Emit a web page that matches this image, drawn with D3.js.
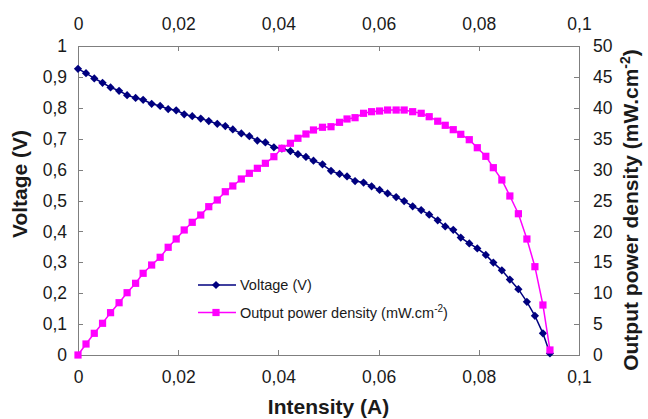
<!DOCTYPE html>
<html>
<head>
<meta charset="utf-8">
<script src="https://cdn.jsdelivr.net/npm/d3@7"></script>
<style>
  html, body { margin: 0; padding: 0; background: #fff; }
  svg { display: block; font-family: "Liberation Sans", Arial, sans-serif; }
  .axis path, .axis line { stroke: #7f7f7f; stroke-width: 1; shape-rendering: crispEdges; }
  .axis text { fill: #1a1a1a; font-size: 17.5px; }
</style>
</head>
<body>
<svg id="chart" width="648" height="419"></svg>
<script>
// Fuel cell polarisation data: current (A), cell voltage (V), output power density (mW/cm2)
const current = [0, 0.0016, 0.00325, 0.0049, 0.0065, 0.0082, 0.0098, 0.0115, 0.0130, 0.0147,
  0.0164, 0.0180, 0.0196, 0.0212, 0.0228, 0.0245, 0.0261, 0.0278, 0.0294, 0.0309,
  0.0326, 0.0342, 0.0358, 0.0374, 0.0391, 0.0407, 0.0424, 0.0439, 0.0455, 0.0470,
  0.0488, 0.0505, 0.0522, 0.0537, 0.0553, 0.0570, 0.0586, 0.0602, 0.0618, 0.0635,
  0.0651, 0.0668, 0.0685, 0.0701, 0.0718, 0.0733, 0.0749, 0.0764, 0.0781, 0.0797,
  0.0814, 0.0829, 0.0846, 0.0862, 0.0879, 0.0896, 0.0912, 0.0928, 0.0942];

const voltage = [0.926, 0.912, 0.895, 0.881, 0.866, 0.855, 0.841, 0.832, 0.826, 0.813,
  0.806, 0.796, 0.792, 0.779, 0.773, 0.765, 0.757, 0.748, 0.741, 0.730,
  0.717, 0.708, 0.694, 0.688, 0.672, 0.668, 0.660, 0.650, 0.641, 0.629,
  0.617, 0.596, 0.586, 0.578, 0.563, 0.558, 0.546, 0.534, 0.523, 0.511,
  0.498, 0.481, 0.469, 0.454, 0.436, 0.416, 0.405, 0.380, 0.361, 0.345,
  0.324, 0.299, 0.274, 0.244, 0.213, 0.172, 0.127, 0.070, 0.005];

const power = [0, 1.78, 3.51, 5.13, 6.85, 8.46, 10.08, 11.60, 13.22, 14.56,
  15.81, 17.43, 18.77, 20.23, 21.47, 22.65, 24.00, 25.08, 26.42, 27.35,
  28.48, 29.40, 30.21, 31.02, 32.09, 33.45, 34.26, 35.07, 35.76, 36.41,
  36.85, 36.94, 37.65, 38.19, 38.40, 39.11, 39.37, 39.48, 39.64, 39.64,
  39.64, 39.37, 39.11, 38.56, 37.83, 37.17, 36.46, 35.71, 34.84, 33.54,
  32.15, 30.31, 28.32, 25.73, 22.86, 18.77, 14.29, 8.09, 0.81];

const xTicks = [0, 0.02, 0.04, 0.06, 0.08, 0.1];
const voltTicks = [0, 0.1, 0.2, 0.3, 0.4, 0.5, 0.6, 0.7, 0.8, 0.9, 1];
const powerTicks = [0, 5, 10, 15, 20, 25, 30, 35, 40, 45, 50];

const seriesNames = ["Voltage (V)", "Output power density (mW.cm", "-2", ")"];

const svg = d3.select("#chart");
const plot = { left: 78, right: 579, top: 46, bottom: 355 };

const x = d3.scaleLinear().domain([0, 0.1]).range([plot.left, plot.right]);
const yV = d3.scaleLinear().domain([0, 1]).range([plot.bottom, plot.top]);
const yP = d3.scaleLinear().domain([0, 50]).range([plot.bottom, plot.top]);

// Decimal comma labels
const fmt = v => String(+v.toFixed(3)).replace(".", ",");

svg.append("g").attr("class", "axis")
  .attr("transform", `translate(0,${plot.bottom})`)
  .call(d3.axisBottom(x).tickValues(xTicks).tickFormat(fmt).tickSizeInner(-5).tickSizeOuter(0).tickPadding(16));

svg.append("g").attr("class", "axis")
  .attr("transform", `translate(0,${plot.top})`)
  .call(d3.axisTop(x).tickValues(xTicks).tickFormat(fmt).tickSizeInner(-5).tickSizeOuter(0).tickPadding(16));

svg.append("g").attr("class", "axis")
  .attr("transform", `translate(${plot.left},0)`)
  .call(d3.axisLeft(yV).tickValues(voltTicks).tickFormat(fmt).tickSizeInner(-5).tickSizeOuter(0).tickPadding(11));

svg.append("g").attr("class", "axis")
  .attr("transform", `translate(${plot.right},0)`)
  .call(d3.axisRight(yP).tickValues(powerTicks).tickFormat(fmt).tickSizeInner(-5).tickSizeOuter(0).tickPadding(14));

// Axis titles
svg.append("text")
  .attr("x", (plot.left + plot.right) / 2).attr("y", 414)
  .attr("text-anchor", "middle").attr("font-weight", "bold").attr("font-size", 21)
  .attr("fill", "#1a1a1a").text("Intensity (A)");

svg.append("text")
  .attr("transform", "translate(27,184) rotate(-90)")
  .attr("text-anchor", "middle").attr("font-weight", "bold").attr("font-size", 21)
  .attr("fill", "#1a1a1a").text("Voltage (V)");

const rt = svg.append("text")
  .attr("transform", "translate(638,210) rotate(-90)")
  .attr("text-anchor", "middle").attr("font-weight", "bold").attr("font-size", 21)
  .attr("fill", "#1a1a1a");
rt.append("tspan").text("Output power density (mW.cm");
rt.append("tspan").attr("font-size", 14).attr("dy", -8).text("-2");
rt.append("tspan").attr("dy", 8).text(")");

// Series
const dataV = current.map((c, i) => ({ c, v: voltage[i] }));
const dataP = current.map((c, i) => ({ c, v: power[i] }));

const navy = "#00007f";
const magenta = "#ff00ff";

const diamond = d3.symbol().type(d3.symbolSquare).size(34);
const square = d3.symbol().type(d3.symbolSquare).size(52);

svg.append("path").datum(dataV)
  .attr("fill", "none").attr("stroke", navy).attr("stroke-width", 1.5)
  .attr("d", d3.line().x(d => x(d.c)).y(d => yV(d.v)));
svg.append("g").selectAll("path").data(dataV).join("path")
  .attr("d", diamond)
  .attr("transform", d => `translate(${x(d.c)},${yV(d.v)}) rotate(45)`)
  .attr("fill", navy);

svg.append("path").datum(dataP)
  .attr("fill", "none").attr("stroke", magenta).attr("stroke-width", 1.5)
  .attr("d", d3.line().x(d => x(d.c)).y(d => yP(d.v)));
svg.append("g").selectAll("path").data(dataP).join("path")
  .attr("d", square)
  .attr("transform", d => `translate(${x(d.c)},${yP(d.v)})`)
  .attr("fill", magenta);

// Legend
const lg = svg.append("g");
const legendRows = [
  { color: navy, sym: diamond, rot: 45, y: 285 },
  { color: magenta, sym: square, rot: 0, y: 312.5 }
];
legendRows.forEach((r, i) => {
  lg.append("line").attr("x1", 198).attr("x2", 236).attr("y1", r.y).attr("y2", r.y)
    .attr("stroke", r.color).attr("stroke-width", 1.5);
  lg.append("path").attr("d", r.sym)
    .attr("transform", `translate(216,${r.y}) rotate(${r.rot})`).attr("fill", r.color);
});
lg.append("text").attr("x", 240).attr("y", 290).attr("font-size", 14.5).attr("fill", "#1a1a1a")
  .text(seriesNames[0]);
const lt = lg.append("text").attr("x", 240).attr("y", 317.5).attr("font-size", 14.5).attr("fill", "#1a1a1a");
lt.append("tspan").text(seriesNames[1]);
lt.append("tspan").attr("font-size", 10).attr("dy", -6).text(seriesNames[2]);
lt.append("tspan").attr("dy", 6).text(seriesNames[3]);
</script>
</body>
</html>
